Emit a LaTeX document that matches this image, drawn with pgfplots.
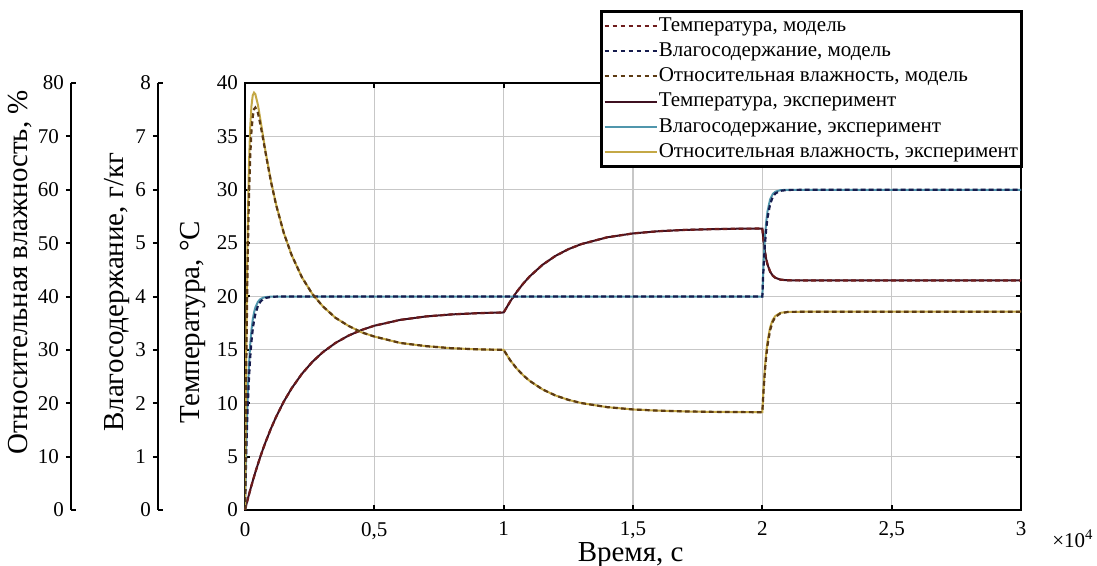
\documentclass[border=0pt]{standalone}
\usepackage{pgfplots}
\pgfplotsset{compat=1.18}
\usepackage{pgfplotstable}
\usepackage{fontspec}
\setmainfont{Liberation Serif}
\newfontfamily\tnr{Liberation Serif}

\definecolor{TexpC}{RGB}{62,16,32}
\definecolor{TmodC}{RGB}{110,28,28}
\definecolor{MexpC}{RGB}{80,150,172}
\definecolor{MmodC}{RGB}{22,28,78}
\definecolor{HexpC}{RGB}{196,168,70}
\definecolor{HmodC}{RGB}{92,58,18}

\pgfplotstableread{
t T
0 0
50 0.483
100 0.954
150 1.412
200 1.858
250 2.293
300 2.717
400 3.531
500 4.304
600 5.037
700 5.734
800 6.392
1000 7.611
1200 8.709
1500 10.154
1800 11.388
2200 12.757
2600 13.866
3000 14.765
3500 15.652
4000 16.334
4500 16.859
5000 17.262
6000 17.809
7000 18.133
8000 18.324
9000 18.437
10000 18.504
10250 19.525
10500 20.416
10750 21.192
11000 21.867
11500 22.967
12000 23.799
12500 24.430
13000 24.908
14000 25.544
15000 25.909
16000 26.118
17000 26.238
18000 26.307
19000 26.347
20000 26.369
20050 25.129
20100 24.204
20150 23.515
20200 23.002
20300 22.334
20400 21.963
20500 21.757
20700 21.579
21000 21.514
22000 21.5
30000 21.5
}\temptable

\pgfplotstableread{
t d
0 0
25 0.676
50 1.238
100 2.093
150 2.683
200 3.091
250 3.372
300 3.567
350 3.701
400 3.793
500 3.901
600 3.953
700 3.978
800 3.989
1000 3.998
1200 4.0
20000 4.0
20025 4.363
20050 4.659
20100 5.101
20150 5.398
20200 5.596
20300 5.819
20400 5.918
20500 5.963
20700 5.993
21000 6.0
30000 6.0
}\moistexp

\pgfplotstableread{
t d
0 0
25 0.579
50 1.074
100 1.859
150 2.434
200 2.854
250 3.162
300 3.387
350 3.551
400 3.672
500 3.824
600 3.906
700 3.950
800 3.973
1000 3.992
1200 3.998
1500 4.0
20000 4.0
20025 4.307
20050 4.567
20100 4.973
20150 5.264
20200 5.473
20300 5.729
20400 5.861
20500 5.929
20700 5.981
21000 5.997
22000 6.0
30000 6.0
}\moistmod

\pgfplotstableread{
t h
0 0
25 17.6
50 31.7
100 51.7
150 64.2
200 71.6
250 75.7
300 77.7
350 78.2
400 77.9
500 75.9
600 73.0
700 70.0
800 67.0
1000 61.7
1200 57.3
1500 51.9
1800 47.8
2200 43.6
2600 40.5
3000 38.2
3500 36.0
4000 34.5
4500 33.3
5000 32.5
6000 31.3
7000 30.7
8000 30.3
9000 30.1
10000 30.0
10250 28.07
10500 26.53
10750 25.26
11000 24.21
11500 22.60
12000 21.46
12500 20.64
13000 20.04
14000 19.27
15000 18.84
16000 18.61
17000 18.47
18000 18.39
19000 18.35
20000 18.32
20025 20.81
20050 23.03
20100 26.69
20150 29.48
20200 31.55
20300 34.21
20400 35.61
20500 36.34
20700 36.94
21000 37.13
22000 37.16
30000 37.16
}\humexp

\pgfplotstableread{
t h
0 0
25 15.1
50 27.5
100 45.9
150 58.2
200 66.1
250 71.0
300 73.7
350 75.1
400 75.4
500 74.4
600 72.1
700 69.5
800 66.8
1000 61.6
1200 57.2
1500 51.9
1800 47.8
2200 43.6
2600 40.5
3000 38.2
3500 36.0
4000 34.5
4500 33.3
5000 32.5
6000 31.3
7000 30.7
8000 30.3
9000 30.1
10000 30.0
10250 28.07
10500 26.53
10750 25.26
11000 24.21
11500 22.60
12000 21.46
12500 20.64
13000 20.04
14000 19.27
15000 18.84
16000 18.61
17000 18.47
18000 18.39
19000 18.35
20000 18.32
20025 20.55
20050 22.57
20100 26.02
20150 28.75
20200 30.86
20300 33.68
20400 35.26
20500 36.14
20700 36.86
21000 37.11
22000 37.16
30000 37.16
}\hummod

\begin{document}
\tnr
\begin{tikzpicture}[font=\tnr]
\useasboundingbox (-122.5pt,-28pt) rectangle (426pt,255pt);
\pgfplotsset{
  base/.style={scale only axis, width=388pt, height=213.5pt, xmin=0, xmax=30000,
    at={(0pt,0pt)}, anchor=south west},
  side/.style={scale only axis, width=10pt, height=213.5pt, xmin=0, xmax=1,
    anchor=south west, axis y line*=left, hide x axis,
    y axis line style={line width=1pt},
    tick align=outside, major tick length=2.5pt,
    tick style={black, line width=1pt},
    extra y tick style={tick align=inside},
    yticklabel style={font=\tnr\fontsize{10.5}{12}\selectfont},
    /pgf/number format/assume math mode=true,
    ylabel style={font=\tnr\fontsize{14.5}{16}\selectfont, anchor=center}},
  tmod/.style={color=TmodC, line width=1.1pt, dash pattern=on 2.4pt off 1.6pt},
  mmod/.style={color=MmodC, line width=1.1pt, dash pattern=on 2.4pt off 1.6pt},
  hmod/.style={color=HmodC, line width=1.1pt, dash pattern=on 2.4pt off 1.6pt},
  texp/.style={color=TexpC, line width=1pt, solid},
  mexp/.style={color=MexpC, line width=1pt, solid},
  hexp/.style={color=HexpC, line width=1pt, solid},
}
% main temperature axis
\begin{axis}[base, ymin=0, ymax=40, ytick={0,5,...,40},
  xtick={0,5000,10000,15000,20000,25000,30000},
  xticklabels={0,{0,5},1,{1,5},2,{2,5},3},
  scaled x ticks=false,
  grid=major, grid style={color=black!22, line width=0.6pt},
  tick align=inside, major tick length=2.5pt,
  tick style={black, line width=1pt},
  axis line style={line width=1pt},
  ticklabel style={font=\tnr\fontsize{10.5}{12}\selectfont},
  xticklabel style={yshift=-2.5pt},
  /pgf/number format/assume math mode=true,
  ylabel={Температура, °C},
  ylabel style={font=\tnr\fontsize{14.5}{16}\selectfont, at={(axis description cs:-0.067,0.44)}, anchor=center},
  xlabel={Время, с},
  xlabel style={font=\tnr\fontsize{14.5}{16}\selectfont, at={(axis description cs:0.497,-0.106)}, anchor=center},
  clip=false]
\addplot[texp] table[x=t,y=T] {\temptable};
\addplot[tmod] table[x=t,y=T] {\temptable};
\node[font=\tnr\fontsize{10.5}{12}\selectfont] at (axis description cs:1.067,-0.068) {×10\textsuperscript{4}};
\end{axis}
% moisture axis (hidden)
\begin{axis}[base, ymin=0, ymax=8, hide axis]
\addplot[mexp] table[x=t,y=d] {\moistexp};
\addplot[mmod] table[x=t,y=d] {\moistmod};
\end{axis}
% humidity axis (hidden) with legend
\begin{axis}[base, ymin=0, ymax=80, hide axis,
  legend cell align=left,
  legend image code/.code={\draw[#1] (0pt,0pt) -- (26pt,0pt);},
  legend style={at={(rel axis cs:0.4575,1.171)}, anchor=north west,
    draw=black, line width=1.4pt, fill=white,
    font=\tnr\fontsize{10.5}{12}\selectfont,
    inner xsep=1pt, inner ysep=1pt, row sep=0pt,
    nodes={inner sep=0.6pt, text height=8.4pt, text depth=3pt}}]
\addplot[hexp, forget plot] table[x=t,y=h] {\humexp};
\addplot[hmod, forget plot] table[x=t,y=h] {\hummod};
\addlegendimage{tmod}\addlegendentry{Температура, модель}
\addlegendimage{mmod}\addlegendentry{Влагосодержание, модель}
\addlegendimage{hmod}\addlegendentry{Относительная влажность, модель}
\addlegendimage{texp}\addlegendentry{Температура, эксперимент}
\addlegendimage{mexp}\addlegendentry{Влагосодержание, эксперимент}
\addlegendimage{hexp}\addlegendentry{Относительная влажность, эксперимент}
\end{axis}
% side axis: moisture scale
\begin{axis}[side, at={(-43.5pt,0pt)}, ymin=0, ymax=8,
  ytick={1,2,...,7}, extra y ticks={0,8},
  ylabel={Влагосодержание, г/кг},
  ylabel style={at={(axis description cs:-2.05,0.51)}}]
\end{axis}
% side axis: relative humidity scale
\begin{axis}[side, at={(-87pt,0pt)}, ymin=0, ymax=80,
  ytick={10,20,...,70}, extra y ticks={0,80},
  ylabel={Относительная влажность, \%},
  ylabel style={at={(axis description cs:-2.55,0.557)}}]
\end{axis}
\end{tikzpicture}
\end{document}
